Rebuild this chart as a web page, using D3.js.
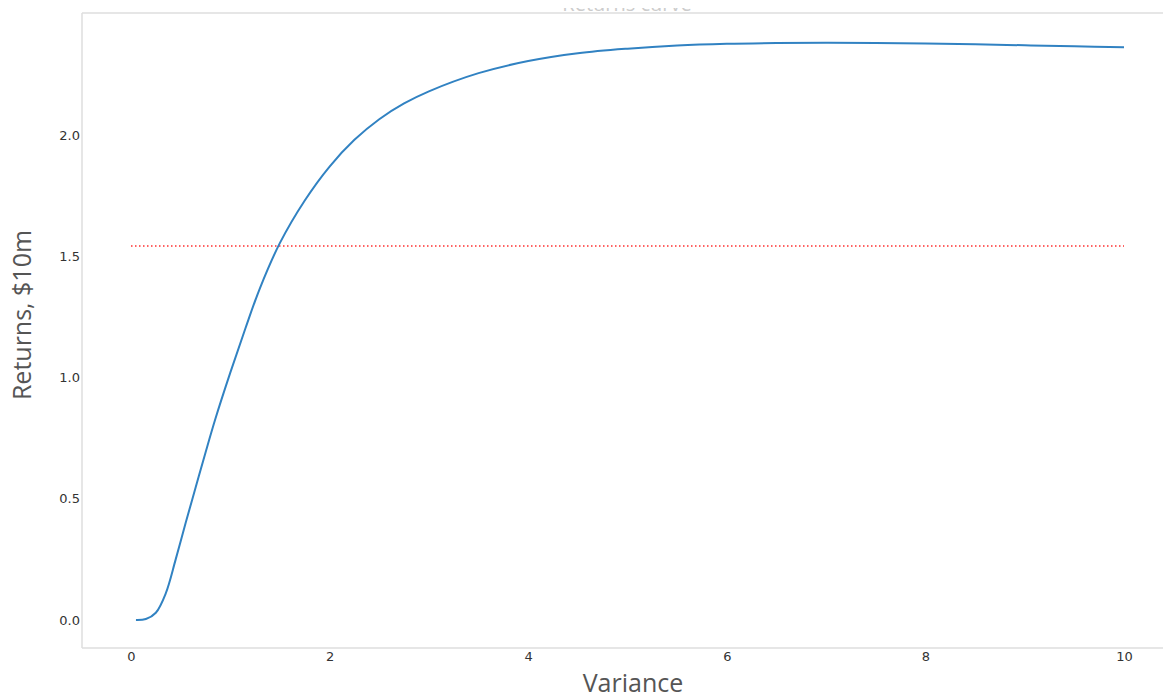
<!DOCTYPE html>
<html>
<head>
<meta charset="utf-8">
<script src="https://cdn.jsdelivr.net/npm/d3@7"></script>
<style>
  html, body { margin: 0; padding: 0; background: #fff; }
  svg { display: block; }
</style>
</head>
<body>
<svg id="chart" width="1163" height="698"></svg>
<script>
// ---- data ----
const chartTitle = "Returns curve";
const xLabel = "Variance";
const yLabel = "Returns, $10m";
const variance = [0.05, 0.15, 0.25, 0.35, 0.45, 0.55, 0.65, 0.75, 0.85, 1.0, 1.15, 1.3, 1.5, 1.75, 2.0, 2.25, 2.5, 2.75, 3.0, 3.5, 4.0, 4.5, 5.0, 5.5, 6.0, 6.5, 7.0, 7.5, 8.0, 8.5, 9.0, 9.5, 10];
const returns  = [0.0, 0.004, 0.03, 0.11, 0.25, 0.40, 0.545, 0.69, 0.83, 1.02, 1.20, 1.37, 1.555, 1.73, 1.87, 1.98, 2.065, 2.13, 2.18, 2.255, 2.305, 2.337, 2.356, 2.369, 2.376, 2.379, 2.380, 2.379, 2.377, 2.374, 2.370, 2.366, 2.362];
const thresholdX = [0, 10];
const thresholdY = 1.542;
const xTicks = [0, 2, 4, 6, 8, 10];
const yTicks = [0.0, 0.5, 1.0, 1.5, 2.0];

// ---- layout ----
const svg = d3.select("#chart");
const frame = { left: 82, right: 1163, top: 13, bottom: 648 };
const tickFont = "'DejaVu Sans', sans-serif";
const titleFont = "'Open Sans', 'DejaVu Sans', sans-serif";

const x = d3.scaleLinear().domain([0, 10]).range([131, 1124]);
const y = d3.scaleLinear().domain([0, 2]).range([620, 135]);

// title (clipped at top, as in reference)
svg.append("clipPath").attr("id", "titleClip")
  .append("rect").attr("x", 0).attr("y", 8).attr("width", 1163).attr("height", 10);
svg.append("text")
  .attr("clip-path", "url(#titleClip)")
  .attr("x", 627).attr("y", 11)
  .attr("text-anchor", "middle")
  .style("font-family", titleFont)
  .style("font-size", "20px")
  .attr("fill", "#cccccc")
  .text(chartTitle);

// frame lines
const frameColor = "#dedede";
svg.append("line").attr("x1", frame.left).attr("x2", frame.right)
  .attr("y1", frame.top).attr("y2", frame.top)
  .attr("stroke", frameColor).attr("stroke-width", 1.5);

// y axis
const yAxis = d3.axisLeft(y).tickValues(yTicks).tickSize(0).tickPadding(2)
  .tickFormat(d3.format(".1f"));
const gy = svg.append("g").attr("transform", `translate(${frame.left},0)`).call(yAxis);
gy.select(".domain").remove();
gy.append("line").attr("x1", 0).attr("x2", 0).attr("y1", frame.top).attr("y2", frame.bottom)
  .attr("stroke", frameColor).attr("stroke-width", 1.5);
gy.attr("font-family", null).attr("font-size", null);
gy.selectAll(".tick text").style("font-size", "13px").attr("fill", "#333")
  .style("font-family", tickFont);

// x axis
const xAxis = d3.axisBottom(x).tickValues(xTicks).tickSize(0).tickPadding(4)
  .tickFormat(d3.format("d"));
const gx = svg.append("g").attr("transform", `translate(0,${frame.bottom})`).call(xAxis);
gx.select(".domain").remove();
gx.append("line").attr("x1", frame.left).attr("x2", frame.right).attr("y1", 0).attr("y2", 0)
  .attr("stroke", frameColor).attr("stroke-width", 1.5);
gx.attr("font-family", null).attr("font-size", null);
gx.selectAll(".tick text").style("font-size", "13px").attr("fill", "#333")
  .style("font-family", tickFont);

// axis titles
svg.append("text")
  .attr("x", 633).attr("y", 692)
  .attr("text-anchor", "middle")
  .style("font-family", titleFont)
  .style("font-size", "25px")
  .attr("fill", "#555")
  .text(xLabel);
svg.append("text")
  .attr("transform", "translate(31,315) rotate(-90)")
  .attr("text-anchor", "middle")
  .style("font-family", titleFont)
  .style("font-size", "25px")
  .attr("fill", "#555")
  .text(yLabel);

// threshold line
svg.append("line")
  .attr("x1", x(thresholdX[0])).attr("x2", x(thresholdX[1]))
  .attr("y1", y(thresholdY)).attr("y2", y(thresholdY))
  .attr("stroke", "#ff3030").attr("stroke-width", 1.5)
  .attr("stroke-dasharray", "1.5,2.5");

// curve
const pts = variance.map((v, i) => [v, returns[i]]);
const line = d3.line().x(d => x(d[0])).y(d => y(d[1])).curve(d3.curveCatmullRom.alpha(0.5));
svg.append("path").datum(pts)
  .attr("d", line)
  .attr("fill", "none")
  .attr("stroke", "#3182c2")
  .attr("stroke-width", 2);
</script>
</body>
</html>
